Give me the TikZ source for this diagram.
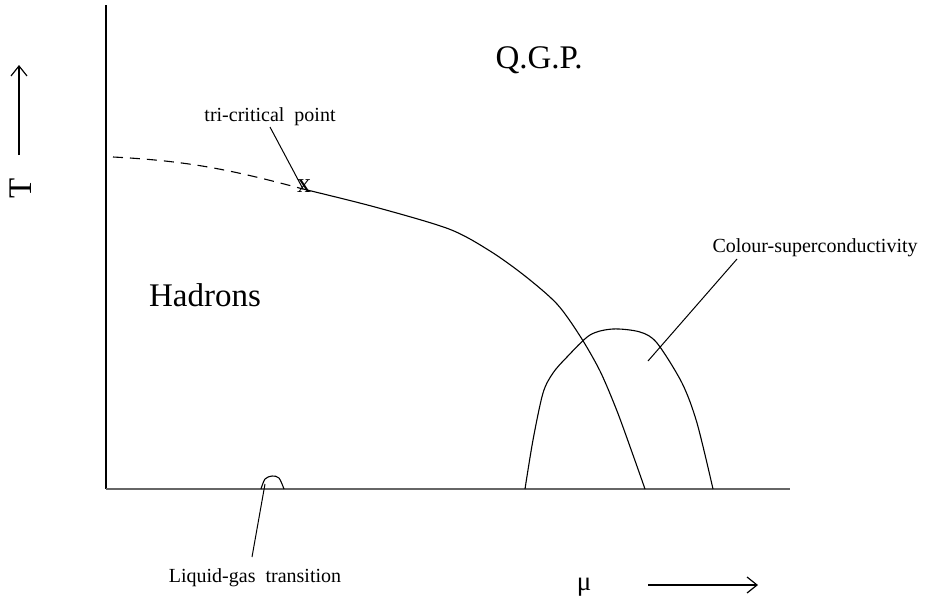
\documentclass[tikz,border=0pt]{standalone}
\usepackage{fontspec}
\setmainfont{Liberation Serif}
\usetikzlibrary{arrows.meta}
\tikzset{
  every picture/.style={line width=0.5pt},
  axis/.style={line width=1pt},
  line/.style={line width=0.55pt},
  leader/.style={line width=0.5pt},
  big/.style={font=\fontsize{16.5}{18}\selectfont, inner sep=0pt},
  label/.style={font=\fontsize{10}{12}\selectfont, inner sep=0pt},
  pointer/.style={-{Straight Barb[length=5pt,width=8pt]}, line width=0.6pt},
}

\begin{document}
\begin{tikzpicture}[x=0.5pt,y=-0.5pt]
  \useasboundingbox (0,0) rectangle (933,600);
  % axes
  \coordinate (O) at (106,489);
  \coordinate (ytop) at (106,5);
  \coordinate (xend) at (790,489);
  \draw[axis] (ytop) -- (O);
  \draw[axis, black!60] (O) -- (xend);
  % axis labels with their arrows
  \node[big, rotate=90] (T) at (21,188) {T};
  \coordinate (tfrom) at (19,155);
  \coordinate (tto) at (19,65);
  \draw[pointer] (tfrom) -- (tto);
  \node[font=\fontsize{13.5}{15}\selectfont, anchor=base, inner sep=0pt] (mu) at (584,590) {μ};
  \coordinate (mfrom) at (648,585);
  \coordinate (mto) at (758,585);
  \draw[pointer] (mfrom) -- (mto);
  % phases
  \node[big, anchor=base west] (qgp) at (495,68) {Q.G.P.};
  \node[big, anchor=base] (had) at (205,306) {Hadrons};
  % crossover and first-order line
  \coordinate (tcp) at (303,189);
  \node[font=\fontsize{14}{15}\selectfont, inner sep=0pt] (xmark) at (304,186) {x};
  \draw[line, dash pattern=on 5pt off 3.5pt] (113,157) to[out=-3,in=165] (tcp);
  \draw[line] plot[smooth] coordinates {(303,189) (375,207) (449,229) (490,251)
    (525,276) (557,304) (580,336) (600,371) (617,411) (633,455) (645,489)};
  % colour superconducting dome
  \draw[line] plot[smooth] coordinates {(525,489) (533,440) (543,393) (553,373) (567,357)
    (590,335) (613,329) (640,332) (657,343) (682,383) (697,423) (713,489)};
  % liquid-gas bump
  \draw[line] plot[smooth] coordinates {(261,489) (265,479) (272,476) (279,478) (284,489)};
  % labels
  \node[label, anchor=base] (tri) at (270,121) {tri-critical\ \ point};
  \coordinate (trifoot) at (270,127);
  \draw[leader] (trifoot) -- (tcp);
  \node[label, anchor=base west] (csc) at (712,252) {Colour-superconductivity};
  \coordinate (cscfoot) at (737,259);
  \coordinate (cscin) at (648,361);
  \draw[leader] (cscfoot) -- (cscin);
  \node[label, anchor=base] (lg) at (255,582) {Liquid-gas\ \ transition};
  \coordinate (lgtop) at (252,557);
  \coordinate (lgin) at (265,484);
  \draw[leader] (lgtop) -- (lgin);
\end{tikzpicture}
\end{document}
